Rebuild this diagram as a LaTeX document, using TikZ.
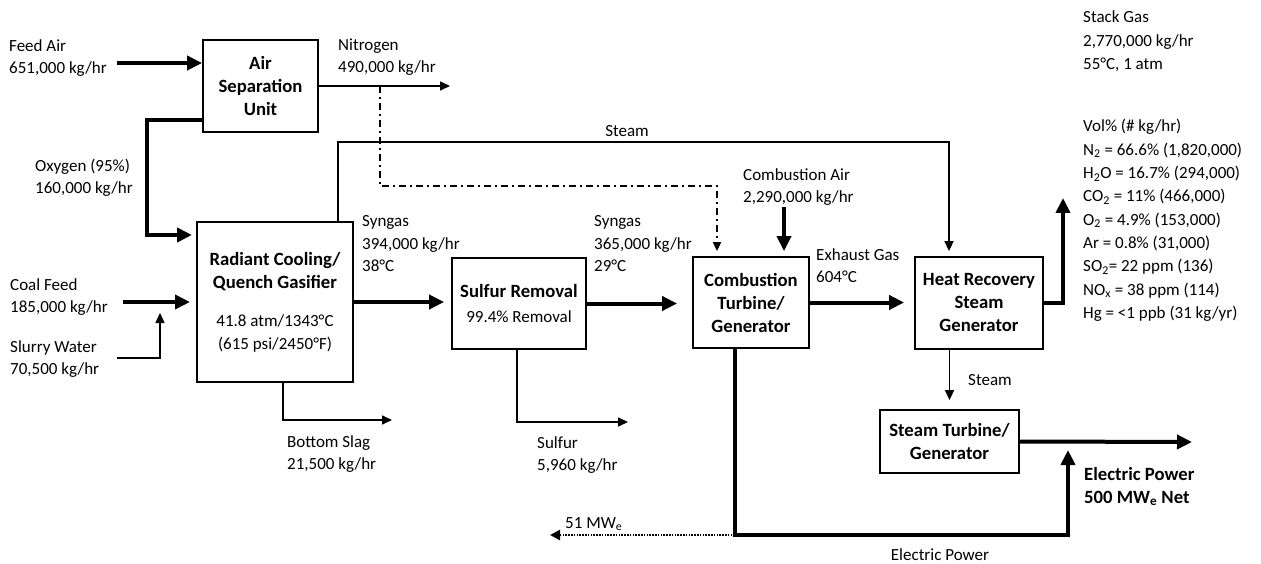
\documentclass[tikz,border=0pt]{standalone}
\usepackage{fontspec}
\setmainfont{Carlito}
\usetikzlibrary{arrows.meta}
\newcommand\labfont{\fontsize{17}{22}\selectfont}
\newcommand\stackfont{\fontsize{17}{23.3}\selectfont}
\newcommand\boxfont{\fontsize{18.7}{23}\selectfont\bfseries}
\newcommand\mylines[1]{\begin{tabular}[t]{@{}l@{}}#1\end{tabular}}
\tikzset{
  box/.style={draw, line width=1.8pt, inner sep=0pt, align=center, font=\boxfont},
  lab/.style={anchor=base west, inner sep=0pt, font=\labfont},
  thk/.style={line width=4pt, -{Triangle[length=15pt,width=14pt]}},
  thn/.style={line width=1.6pt, -{Triangle[length=10pt,width=9pt]}},
  dashdot/.style={line width=1.8pt, dash pattern=on 7pt off 4pt on 2pt off 4pt, -{Triangle[length=9pt,width=8pt]}},
  dotarr/.style={line width=2.4pt, dash pattern=on 1.6pt off 1.2pt, -{Triangle[length=10pt,width=10pt]}},
}
\begin{document}
\begin{tikzpicture}[x=1pt,y=-1pt]
\useasboundingbox (0,0) rectangle (1261,564);
\fill[white] (0,0) rectangle (1261,564);

% boxes
\node[box, minimum width=115pt, minimum height=92pt] (asu) at (260.5,86) {Air\\Separation\\Unit};
\node[box, minimum width=156pt, minimum height=160pt] (gas) at (275,302)
  {Radiant Cooling/\\Quench Gasifier\\[15pt]{\mdseries\labfont 41.8 atm/1343°C}\\{\mdseries\labfont (615 psi/2450°F)}};
\node[box, minimum width=134pt, minimum height=91pt] (sr) at (519,303.5)
  {Sulfur Removal\\[2pt]{\mdseries\labfont 99.4\% Removal}};
\node[box, minimum width=116pt, minimum height=91pt] (ct) at (751,302.5) {Combustion\\Turbine/\\Generator};
\node[box, minimum width=128pt, minimum height=92pt] (hrsg) at (979,303) {Heat Recovery\\Steam\\Generator};
\node[box, minimum width=139pt, minimum height=63pt] (st) at (949.5,441.5) {Steam Turbine/\\Generator};

% coordinates
\coordinate (fa) at (117,63);
\coordinate (n2) at (450,86);
\coordinate (ox1) at (147,120);
\coordinate (ox2) at (147,235);
\coordinate (ox3) at (192,235);
\coordinate (cf) at (123,302);
\coordinate (cf2) at (190,302);
\coordinate (sw) at (117,358);
\coordinate (sw2) at (160,358);
\coordinate (sw3) at (160,313);
\coordinate (stm) at (338,142);
\coordinate (stm2) at (949,142);
\coordinate (dd1) at (380,86);
\coordinate (dd2) at (380,186);
\coordinate (dd3) at (717,186);
\coordinate (ca) at (784,207);
\coordinate (stk) at (1063,198);
\coordinate (ep) at (1192,442);
\coordinate (p1) at (735,535);
\coordinate (p2) at (1068,535);
\coordinate (p3) at (1068,450);
\coordinate (mw) at (550,535);
\coordinate (bs) at (283,420);
\coordinate (bs2) at (392,420);
\coordinate (su) at (517,422);
\coordinate (su2) at (628,422);

% connectors
\draw[thk] (fa) -- (fa -| asu.west);
\draw[thn] (n2 -| asu.east) -- (n2);
\draw[thk] (ox1 -| asu.west) -- (ox1) -- (ox2) -- (ox3);
\draw[thk] (cf) -- (cf2);
\draw[thn] (sw) -- (sw2) -- (sw3);
\draw[thk, shorten >=7pt] (gas.east) -- (gas.east -| sr.west);
\draw[thk, shorten >=15pt] (sr.east) -- (sr.east -| ct.west);
\draw[thk, shorten >=10pt] (ct.east) -- (ct.east -| hrsg.west);
\draw[thk] (hrsg.east) -- (hrsg.east -| stk) -- (stk);
\draw[thn, shorten >=5pt] (stm |- gas.north) -- (stm) -- (stm2) -- (stm2 |- hrsg.north);
\draw[dashdot, shorten >=5pt] (dd1) -- (dd2) -- (dd3) -- (dd3 |- ct.north);
\draw[thk, line width=3.6pt, shorten >=5pt] (ca) -- (ca |- ct.north);
\draw[thn, shorten >=9pt] (st.north |- hrsg.south) -- (st.north);
\draw[thk] (st.east) -- (ep);
\draw[thk] (p1 |- ct.south) -- (p1) -- (p2) -- (p3);
\draw[dotarr] (p1) -- (mw);
\draw[thn] (bs |- gas.south) -- (bs) -- (bs2);
\draw[thn] (su |- sr.south) -- (su) -- (su2);

% labels
\node[lab] (lfa) at (9,52) {\mylines{Feed Air\\651,000 kg/hr}};
\node[lab] (lox) at (35,172) {\mylines{Oxygen (95\%)\\160,000 kg/hr}};
\node[lab] (lcf) at (10,290) {\mylines{Coal Feed\\185,000 kg/hr}};
\node[lab] (lsw) at (10,352) {\mylines{Slurry Water\\70,500 kg/hr}};
\node[lab] (ln2) at (338,51) {\mylines{Nitrogen\\490,000 kg/hr}};
\node[lab] (lsg1) at (362,227) {\mylines{Syngas\\394,000 kg/hr\\38°C}};
\node[lab, anchor=base] (lstm) at (627,137) {Steam};
\node[lab] (lsg2) at (594,227) {\mylines{Syngas\\365,000 kg/hr\\29°C}};
\node[lab] (lca) at (743,181) {\mylines{Combustion Air\\2,290,000 kg/hr}};
\node[lab] (lex) at (816,260) {\mylines{Exhaust Gas\\604°C}};
\node[lab] (lstm2) at (968,385) {Steam};
\node[lab] (lbs) at (287,447) {\mylines{Bottom Slag\\21,500 kg/hr}};
\node[lab] (lsu) at (537,448) {\mylines{Sulfur\\5,960 kg/hr}};
\node[lab] (lmw) at (565,528) {51 MW\textsubscript{e}};
\node[lab, anchor=base] (lep) at (940,560) {Electric Power};
\node[lab, font=\boxfont] (lep2) at (1084,480) {\mylines{Electric Power\\500 MW\textsubscript{e} Net}};
\node[lab, font=\stackfont] (lsg) at (1083,23) {\mylines{Stack Gas\\2,770,000 kg/hr\\55°C, 1 atm}};
\node[lab, font=\stackfont] (lvol) at (1083,132) {\mylines{Vol\% (\# kg/hr)\\
N\textsubscript{2} = 66.6\% (1,820,000)\\
H\textsubscript{2}O = 16.7\% (294,000)\\
CO\textsubscript{2} = 11\% (466,000)\\
O\textsubscript{2} = 4.9\% (153,000)\\
Ar = 0.8\% (31,000)\\
SO\textsubscript{2}= 22 ppm (136)\\
NO\textsubscript{x} = 38 ppm (114)\\
Hg = <1 ppb (31 kg/yr)}};
\end{tikzpicture}
\end{document}
